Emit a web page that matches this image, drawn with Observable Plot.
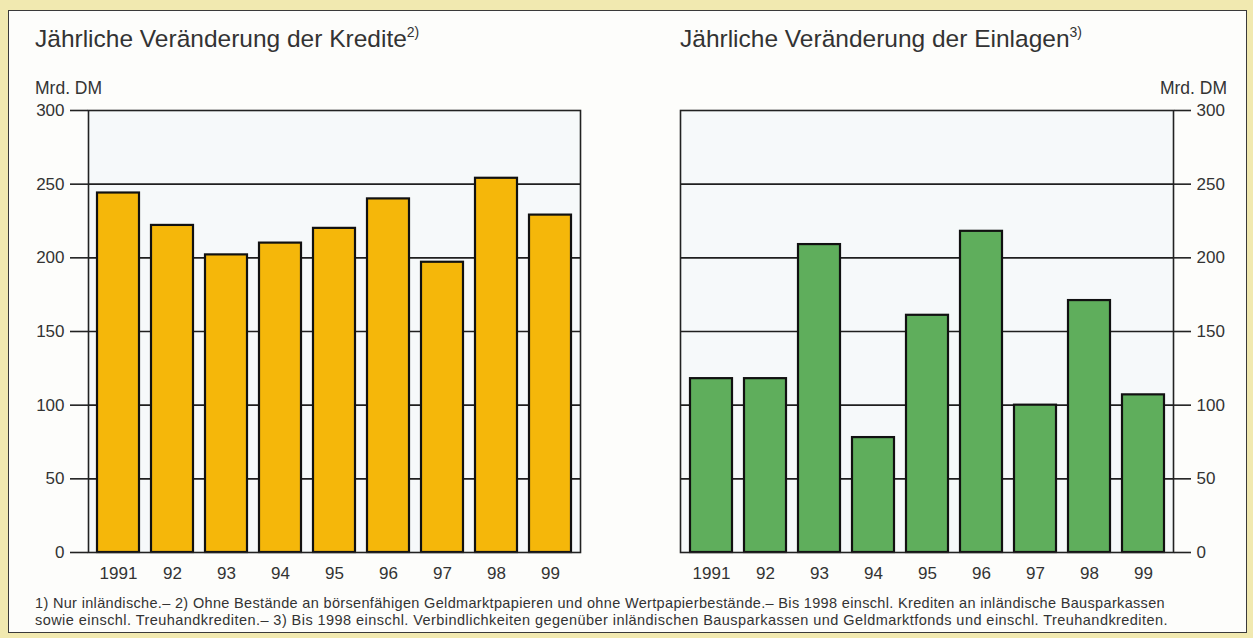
<!DOCTYPE html>
<html><head><meta charset="utf-8">
<script src="https://cdn.jsdelivr.net/npm/d3@7"></script>
<script src="https://cdn.jsdelivr.net/npm/@observablehq/plot@0.6"></script>
<style>
html,body{margin:0;padding:0;}
body{width:1253px;height:638px;background:#f1e9b0;position:relative;overflow:hidden;font-family:"Liberation Sans",Arial,sans-serif;color:#2e2e2e;}
#panel{position:absolute;left:8px;top:10px;width:1239px;height:623px;background:#fdfdfb;border:1.5px solid #3a3a3a;box-sizing:border-box;}
.title{position:absolute;font-size:24.5px;line-height:1;top:27px;white-space:nowrap;color:#333;}
.title sup{font-size:14px;line-height:1;vertical-align:top;position:relative;top:-2px;}
.unit{position:absolute;font-size:17.5px;line-height:1;top:80px;white-space:nowrap;color:#333;}
#chartL{position:absolute;left:0;top:100px}
#chartR{position:absolute;left:620px;top:100px}
.foot{position:absolute;left:35px;font-size:14.5px;line-height:1;white-space:nowrap;color:#333;}
</style></head><body>
<div id="panel"></div>
<div class="title" style="left:35px">Jährliche Veränderung der Kredite<sup>2)</sup></div>
<div class="title" style="left:680px">Jährliche Veränderung der Einlagen<sup>3)</sup></div>
<div class="unit" style="left:35px">Mrd. DM</div>
<div class="unit" style="right:26px">Mrd. DM</div>
<div id="chartL"></div>
<div id="chartR"></div>
<div class="foot" id="f1" style="top:596px">1) Nur inländische.– 2) Ohne Bestände an börsenfähigen Geldmarktpapieren und ohne Wertpapierbestände.– Bis 1998 einschl. Krediten an inländische Bausparkassen</div>
<div class="foot" id="f2" style="top:613px">sowie einschl. Treuhandkrediten.– 3) Bis 1998 einschl. Verbindlichkeiten gegenüber inländischen Bausparkassen und Geldmarktfonds und einschl. Treuhandkrediten.</div>
<script>
const years = ["1991","92","93","94","95","96","97","98","99"];
const kredite = [244,222,202,210,220,240,197,254,229];
const einlagen = [118,118,209,78,161,218,100,171,107];
const yTicks = [0,50,100,150,200,250,300];
const gridTicks = [50,100,150,200,250];

function chart(values, fill, side) {
  const data = years.map((y,i)=>({year:y, value:values[i]}));
  const left = side === "left";
  return Plot.plot({
    width: left ? 600 : 633,
    height: 482,
    marginTop: 10,
    marginBottom: 30,
    marginLeft: left ? 88 : 60,
    marginRight: left ? 20 : 80,
    style: {fontFamily:'"Liberation Sans",Arial,sans-serif', fontSize:"17px", color:"#333", background:"transparent", overflow:"visible"},
    x: {domain: years, paddingInner: 0.23, paddingOuter: 0.12, label: null},
    y: {domain: [0,300], label: null},
    marks: [
      Plot.frame({fill:"#f6f9fa", stroke:"none"}),
      Plot.gridY(gridTicks, {stroke:"#1f1f1f", strokeOpacity:1, strokeWidth:1.6}),
      Plot.barY(data, {x:"year", y:"value", fill, stroke:"#111", strokeWidth:2.2}),
      Plot.frame({stroke:"#222", strokeWidth:1.6}),
      Plot.axisY(yTicks, {anchor: side, tickSize: left ? 18 : 17, tickPadding: 6, strokeWidth:1.6, stroke:"#222", label:null, fontSize:17}),
      Plot.axisX({tickSize:0, tickPadding:14, label:null, fontSize:17})
    ]
  });
}
document.getElementById("chartL").append(chart(kredite, "#f5b70a", "left"));
document.getElementById("chartR").append(chart(einlagen, "#5fae5c", "right"));

// fit footnote lines to their printed width
for (const id of ["f1","f2"]) {
  const el = document.getElementById(id);
  const target = id === "f1" ? 1130 : 1133;
  const w = el.getBoundingClientRect().width;
  const n = el.textContent.length;
  el.style.letterSpacing = ((target - w) / n) + "px";
}
</script>
</body></html>
